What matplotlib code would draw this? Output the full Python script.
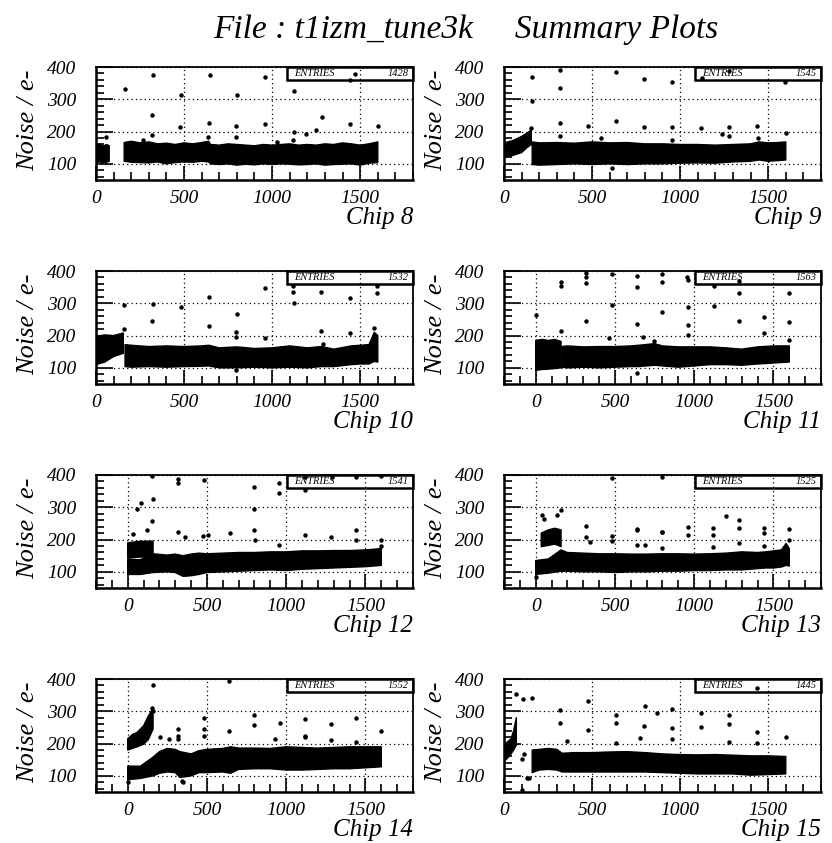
import matplotlib
matplotlib.use("Agg")
import matplotlib.pyplot as plt
from matplotlib.patches import Rectangle
from matplotlib.ticker import MultipleLocator

nan = float("nan")

chips = ["Chip 8", "Chip 9", "Chip 10", "Chip 11", "Chip 12", "Chip 13", "Chip 14", "Chip 15"]
entries = [1428, 1545, 1532, 1563, 1541, 1525, 1552, 1445]
x_low = [0, 0, 0, -200, -200, -200, -200, 0]
title = "File : t1izm_tune3k     Summary Plots"

# ---- dense band envelopes (channel, lower, upper); nan separates segments ----
c8_band_x = [0, 20, 40, 60, 75, nan, 160, 200, 250, 300, 350, 400, 450, 500, 550, 600, 640, 650, 700, 750, 800, 850, 900, 950, 1000, 1050, 1100, 1150, 1200, 1250, 1300, 1350, 1400, 1450, 1500, 1550, 1600]
c8_band_lo = [104, 106, 103, 105, 108, nan, 108, 105, 104, 103, 106, 100, 104, 106, 105, 108, 106, 100, 98, 100, 96, 99, 97, 100, 98, 100, 99, 97, 98, 100, 96, 98, 99, 100, 96, 102, 104]
c8_band_hi = [158, 162, 155, 160, 156, nan, 166, 170, 165, 168, 162, 164, 160, 165, 162, 166, 170, 160, 158, 162, 160, 158, 156, 160, 158, 160, 162, 158, 160, 158, 162, 160, 165, 162, 158, 162, 168]
c8_out_x = [59, 163, 265, 318, 318, 322, 479, 481, 636, 640, 646, 797, 797, 801, 962, 962, 1028, 1119, 1123, 1123, 1195, 1248, 1284, 1441, 1445, 1470, 1602]
c8_out_y = [184, 331, 174, 252, 188, 374, 213, 312, 184, 228, 374, 218, 184, 314, 369, 223, 169, 174, 200, 326, 194, 205, 246, 222, 359, 379, 218]

c9_band_x = [0, 50, 100, 130, 155, nan, 160, 200, 300, 400, 500, 600, 700, 800, 900, 1000, 1100, 1200, 1300, 1400, 1450, 1500, 1550, 1600]
c9_band_lo = [120, 126, 135, 150, 160, nan, 98, 96, 98, 100, 98, 100, 98, 100, 100, 102, 103, 102, 106, 108, 112, 108, 110, 112]
c9_band_hi = [165, 172, 185, 195, 205, nan, 168, 165, 166, 164, 168, 165, 166, 162, 162, 160, 160, 158, 160, 162, 168, 165, 166, 168]
c9_out_x = [155, 157, 157, 316, 316, 316, 316, 477, 551, 616, 634, 634, 797, 797, 956, 956, 956, 1119, 1123, 1237, 1278, 1278, 1278, 1439, 1443, 1597, 1600]
c9_out_y = [212, 294, 369, 391, 335, 225, 186, 218, 179, 87, 384, 233, 364, 215, 355, 215, 174, 210, 367, 194, 215, 186, 389, 218, 181, 355, 196]

c10_band_x = [0, 50, 100, 155, nan, 165, 200, 300, 400, 500, 600, 640, 700, 800, 900, 1000, 1100, 1200, 1280, 1350, 1450, 1500, 1550, 1580, 1600]
c10_band_lo = [110, 118, 135, 145, nan, 104, 102, 104, 102, 104, 105, 106, 100, 100, 102, 100, 102, 100, 104, 104, 110, 112, 112, 120, 118]
c10_band_hi = [198, 202, 200, 208, nan, 172, 170, 166, 168, 166, 168, 170, 162, 165, 160, 162, 168, 162, 166, 158, 168, 170, 172, 210, 200]
c10_out_x = [159, 159, 318, 322, 485, 640, 644, 797, 797, 797, 801, 958, 962, 1119, 1119, 1123, 1275, 1278, 1288, 1441, 1445, 1578, 1593, 1593]
c10_out_y = [220, 295, 246, 297, 288, 231, 319, 211, 197, 93, 266, 192, 348, 353, 336, 300, 215, 336, 174, 316, 208, 225, 353, 331]

c11_band_x = [0, 40, 80, 120, 160, nan, 165, 200, 300, 400, 500, 600, 650, 750, 800, 900, 1000, 1100, 1200, 1300, 1400, 1500, 1600]
c11_band_lo = [92, 95, 96, 98, 100, nan, 102, 100, 102, 100, 102, 104, 104, 108, 106, 102, 106, 110, 110, 108, 112, 115, 118]
c11_band_hi = [185, 188, 185, 188, 182, nan, 166, 168, 165, 166, 166, 168, 170, 175, 168, 165, 165, 165, 162, 158, 165, 168, 168]
c11_out_x = [0, 160, 160, 160, 320, 320, 320, 320, 463, 480, 484, 638, 638, 638, 638, 674, 747, 800, 800, 800, 954, 958, 958, 958, 964, 1122, 1122, 1280, 1280, 1284, 1442, 1442, 1600, 1600, 1600]
c11_out_y = [264, 367, 353, 215, 394, 380, 362, 244, 192, 295, 392, 384, 349, 235, 85, 195, 184, 390, 365, 274, 382, 372, 288, 233, 203, 354, 292, 331, 246, 369, 259, 208, 331, 242, 187]

c12_band_x = [0, 80, 160, nan, 0, 80, 160, 250, 300, 350, 400, 450, 500, 600, 700, 800, 900, 1000, 1100, 1200, 1300, 1400, 1500, 1600]
c12_band_lo = [142, 146, 145, nan, 92, 92, 98, 100, 98, 86, 88, 92, 98, 100, 102, 104, 106, 104, 108, 110, 112, 114, 116, 120]
c12_band_hi = [190, 195, 195, nan, 138, 138, 156, 152, 155, 150, 155, 158, 156, 158, 160, 160, 162, 162, 165, 165, 166, 166, 168, 172]
c12_out_x = [36, 57, 82, 120, 155, 155, 162, 319, 319, 319, 361, 477, 481, 508, 645, 796, 796, 796, 803, 956, 956, 956, 1118, 1118, 1118, 1282, 1286, 1443, 1443, 1443, 1601, 1601, 1601]
c12_out_y = [218, 294, 312, 230, 397, 256, 325, 389, 374, 225, 208, 210, 384, 215, 220, 364, 294, 230, 200, 374, 343, 184, 394, 355, 215, 207, 394, 394, 230, 200, 396, 200, 181]

c13_band_x = [35, 80, 120, 160, nan, 0, 80, 160, 200, 300, 400, 500, 600, 700, 800, 900, 1000, 1100, 1200, 1300, 1400, 1450, 1500, 1550, 1580, 1600]
c13_band_lo = [178, 182, 186, 178, nan, 92, 96, 102, 102, 100, 100, 98, 100, 100, 102, 102, 104, 104, 106, 106, 110, 112, 112, 115, 120, 118]
c13_band_hi = [220, 230, 235, 230, nan, 135, 140, 168, 160, 158, 156, 156, 155, 155, 156, 156, 155, 156, 158, 162, 160, 162, 165, 168, 188, 172]
c13_out_x = [0, 38, 53, 132, 158, 315, 320, 340, 480, 480, 480, 640, 640, 640, 690, 800, 800, 800, 800, 960, 960, 1120, 1120, 1120, 1200, 1280, 1280, 1280, 1440, 1440, 1440, 1600, 1600]
c13_out_y = [85, 276, 263, 276, 292, 207, 243, 194, 392, 210, 195, 234, 230, 183, 183, 394, 225, 222, 175, 240, 215, 237, 215, 176, 273, 262, 235, 188, 236, 220, 180, 232, 200]

c14_band_x = [0, 30, 60, 100, 130, 160, nan, 0, 80, 160, 200, 250, 300, 330, 400, 450, 500, 600, 650, 700, 800, 900, 1000, 1100, 1200, 1300, 1400, 1500, 1600]
c14_band_lo = [180, 185, 190, 198, 212, 245, nan, 88, 92, 100, 108, 112, 110, 95, 100, 110, 110, 112, 108, 120, 122, 122, 118, 118, 120, 122, 122, 125, 128]
c14_band_hi = [215, 228, 235, 255, 285, 310, nan, 130, 130, 158, 175, 185, 182, 175, 168, 178, 182, 185, 190, 186, 186, 185, 190, 188, 186, 188, 190, 190, 190]
c14_out_x = [0, 155, 160, 160, 205, 260, 320, 320, 320, 340, 350, 480, 480, 480, 640, 640, 800, 800, 930, 960, 1120, 1120, 1120, 1280, 1280, 1440, 1440, 1600]
c14_out_y = [80, 310, 300, 380, 220, 215, 245, 225, 215, 85, 80, 280, 245, 225, 395, 240, 290, 258, 215, 265, 275, 225, 220, 262, 210, 278, 205, 240]

c15_band_x = [0, 20, 40, 55, 70, nan, 160, 200, 250, 300, 330, 400, 500, 600, 700, 800, 900, 1000, 1100, 1200, 1300, 1400, 1500, 1600]
c15_band_lo = [145, 155, 168, 180, 195, nan, 110, 118, 120, 118, 112, 112, 112, 112, 112, 112, 110, 108, 106, 106, 106, 102, 104, 106]
c15_band_hi = [200, 205, 215, 240, 280, nan, 180, 182, 185, 182, 170, 172, 172, 174, 175, 172, 168, 166, 165, 166, 164, 162, 162, 160]
c15_out_x = [66, 100, 100, 110, 114, 129, 142, 157, 316, 316, 360, 477, 479, 634, 634, 634, 771, 797, 801, 866, 956, 956, 956, 1121, 1121, 1278, 1278, 1278, 1439, 1439, 1439, 1600]
c15_out_y = [354, 152, 57, 339, 169, 92, 92, 342, 304, 265, 209, 241, 333, 288, 265, 201, 218, 254, 316, 296, 306, 247, 213, 296, 251, 288, 260, 206, 371, 236, 203, 219]

bands = [
    (c8_band_x, c8_band_lo, c8_band_hi, c8_out_x, c8_out_y),
    (c9_band_x, c9_band_lo, c9_band_hi, c9_out_x, c9_out_y),
    (c10_band_x, c10_band_lo, c10_band_hi, c10_out_x, c10_out_y),
    (c11_band_x, c11_band_lo, c11_band_hi, c11_out_x, c11_out_y),
    (c12_band_x, c12_band_lo, c12_band_hi, c12_out_x, c12_out_y),
    (c13_band_x, c13_band_lo, c13_band_hi, c13_out_x, c13_out_y),
    (c14_band_x, c14_band_lo, c14_band_hi, c14_out_x, c14_out_y),
    (c15_band_x, c15_band_lo, c15_band_hi, c15_out_x, c15_out_y),
]

plt.rcParams["font.family"] = ["Liberation Serif", "DejaVu Serif"]
plt.rcParams["font.style"] = "italic"

W, H = 832, 843
fig = plt.figure(figsize=(W / 100, H / 100), dpi=100)
col_left = [96, 504]
row_top = [67, 271, 475, 679]
aw, ah = 317, 113

fig.text(466 / W, 1 - 30 / H, title, ha="center", va="center", fontsize=24, style="italic")

for i, chip in enumerate(chips):
    r, c = divmod(i, 2)
    ax = fig.add_axes([col_left[c] / W, 1 - (row_top[r] + ah) / H, aw / W, ah / H])
    bx, blo, bhi, ox, oy = bands[i]
    ax.fill_between(bx, blo, bhi, facecolor="black", edgecolor="black", lw=1.0, zorder=2)
    ax.plot(ox, oy, "o", color="black", ms=3.2, mew=0, zorder=3)
    ax.set_xlim(x_low[i], 1800)
    ax.set_ylim(50, 400)
    ax.xaxis.set_major_locator(MultipleLocator(500))
    ax.xaxis.set_minor_locator(MultipleLocator(100))
    ax.yaxis.set_major_locator(MultipleLocator(100))
    ax.yaxis.set_minor_locator(MultipleLocator(20))
    ax.tick_params(which="both", direction="in", top=False, right=False, width=1.2, labelsize=14)
    ax.tick_params(axis="x", which="major", length=10, pad=7)
    ax.tick_params(axis="x", which="minor", length=6)
    ax.tick_params(axis="y", which="major", length=12, pad=14)
    ax.tick_params(axis="y", which="minor", length=6)
    ax.grid(True, which="major", color="black", linestyle=(0, (1, 2.5)), lw=0.9, zorder=1)
    ax.set_axisbelow(True)
    for s in ax.spines.values():
        s.set_linewidth(1.3)
    ax.spines["left"].set_linewidth(1.8)
    ax.spines["bottom"].set_linewidth(1.8)
    # statistics box
    ax.add_patch(Rectangle((0.603, 0.885), 0.397, 0.115, transform=ax.transAxes,
                           fill=False, edgecolor="black", lw=1.8, zorder=4, clip_on=False))
    ax.text(0.625, 0.942, "ENTRIES", transform=ax.transAxes, fontsize=7.5, ha="left", va="center")
    ax.text(0.985, 0.942, str(entries[i]), transform=ax.transAxes, fontsize=7.5, ha="right", va="center")
    ax.text(-0.215, 0.53, "Noise / e-", transform=ax.transAxes, rotation=90, fontsize=19,
            ha="center", va="center")
    ax.text(1.0, -0.34, chip, transform=ax.transAxes, fontsize=18, ha="right", va="center")

fig.savefig("out.png", dpi=100)
